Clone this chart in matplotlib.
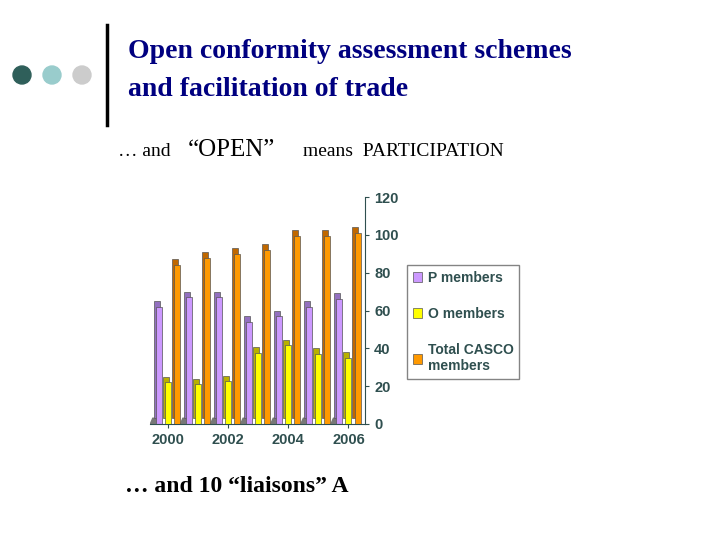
import numpy as np
import matplotlib.pyplot as plt
from matplotlib.patches import Circle

years = [2000, 2001, 2002, 2003, 2004, 2005, 2006]
p_members = [62, 67, 67, 54, 57, 62, 66]
o_members = [22, 21, 22.5, 37.5, 41.5, 37, 35]
total_casco = [84, 88, 90, 92, 99.5, 99.5, 101]
series = [("P members", p_members, "#cc99ff", "#9370c0"),
          ("O members", o_members, "#ffff00", "#b8b000"),
          ("Total CASCO\nmembers", total_casco, "#ff9900", "#c06800")]

serif = "Liberation Serif"
sans = "Liberation Sans"

fig = plt.figure(figsize=(7.2, 5.4), dpi=100)
fig.patch.set_facecolor("white")

# slide decorations
deco = fig.add_axes([0, 0, 1, 1])
deco.set_xlim(0, 720)
deco.set_ylim(540, 0)
deco.axis("off")
for cx, col in [(22, "#2f5f5a"), (52, "#99cccc"), (82, "#cccccc")]:
    deco.add_patch(Circle((cx, 75), 9, color=col))
deco.plot([107, 107], [25, 125], color="black", lw=2.5)
deco.text(128, 52, "Open conformity assessment schemes", fontsize=20, color="#000080",
          family=serif, weight="bold", va="center")
deco.text(128, 90, "and facilitation of trade", fontsize=20, color="#000080",
          family=serif, weight="bold", va="center")
deco.text(118, 152, "… and", fontsize=14, family=serif, va="center")
deco.text(188, 150, "“OPEN”", fontsize=18, family=serif, va="center")
deco.text(303, 152, "means  PARTICIPATION", fontsize=14, family=serif, va="center")
deco.text(125, 487, "… and 10 “liaisons” A", fontsize=17, family=serif,
          weight="bold", va="center")

ax = fig.add_axes([0.208, 0.215, 0.299, 0.42])
x = np.arange(len(years))
w = 0.2
d = 0.07
for i, (name, vals, front, dark) in enumerate(series):
    xs = x - 0.3 + i * 0.3
    ax.bar(xs - d, vals, bottom=3, width=w, color=dark,
           edgecolor="#555555", lw=0.5, zorder=2 + i)
    ax.bar(xs, vals, width=w, color=front, edgecolor="#555555", lw=0.5,
           zorder=2.5 + i, label=name)
for xi in x:
    ax.fill([xi - 0.58, xi - 0.4, xi - 0.33, xi - 0.5], [0, 0, 3, 3], color="#777777", zorder=1)

ax.set_xlim(-0.6, 6.55)
ax.set_ylim(0, 120)
ax.yaxis.tick_right()
ax.set_yticks(range(0, 121, 20))
ax.set_xticks([0, 2, 4, 6])
ax.set_xticklabels(["2000", "2002", "2004", "2006"])
ax.tick_params(labelsize=10.5, colors="#2f4f4f", length=3)
for lab in ax.get_xticklabels() + ax.get_yticklabels():
    lab.set_fontweight("bold")
    lab.set_family(sans)
    lab.set_color("#2f4f4f")
for s in ["top", "left"]:
    ax.spines[s].set_visible(False)
ax.spines["right"].set_color("#2f4f4f")
ax.spines["bottom"].set_color("#2f4f4f")

leg = fig.legend(*ax.get_legend_handles_labels(), loc="upper left",
                 bbox_to_anchor=(400 / 720, 1 - 258 / 540),
                 prop={"family": sans, "size": 10, "weight": "bold"},
                 frameon=True, fancybox=False, edgecolor="#666666",
                 labelspacing=1.6, handlelength=0.7, handletextpad=0.4,
                 borderpad=0.4)
for t in leg.get_texts():
    t.set_color("#2f4f4f")

fig.savefig("out.png", dpi=100)
